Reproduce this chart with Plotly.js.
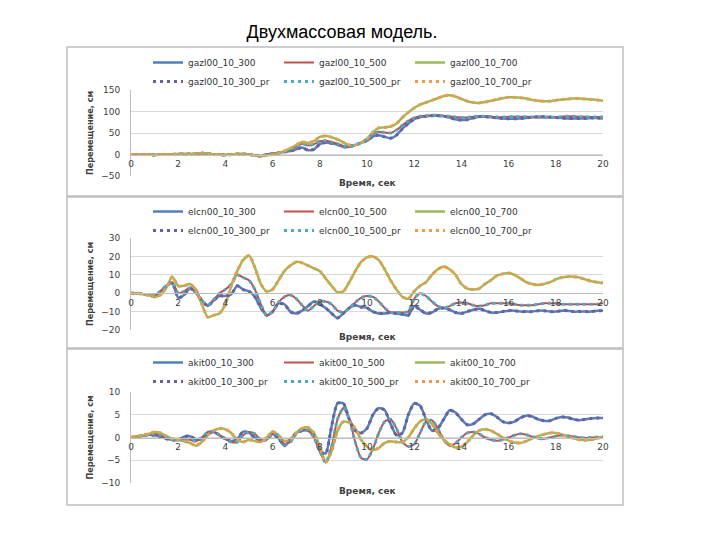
<!DOCTYPE html>
<html>
<head>
<meta charset="utf-8">
<script src="https://cdn.plot.ly/plotly-3.0.1.min.js"></script>
<style>
  html, body { margin: 0; padding: 0; background: #ffffff; }
  #chart { width: 720px; height: 540px; }
</style>
</head>
<body>
<div id="chart"></div>
<script>
// ---- time axis (seconds) ----
const time = [0,0.25,0.5,0.75,1,1.25,1.5,1.75,2,2.25,2.5,2.75,3,3.25,3.5,3.75,4,4.25,4.5,4.75,
  5,5.25,5.5,5.75,6,6.25,6.5,6.75,7,7.25,7.5,7.75,8,8.25,8.5,8.75,9,9.25,9.5,9.75,
  10,10.25,10.5,10.75,11,11.25,11.5,11.75,12,12.25,12.5,12.75,13,13.25,13.5,13.75,14,14.25,14.5,14.75,
  15,15.25,15.5,15.75,16,16.25,16.5,16.75,17,17.25,17.5,17.75,18,18.25,18.5,18.75,19,19.25,19.5,19.75,20];

// ---- panel 1: gazl ----
const gazl300 = [0,0,0,0,-1,0,0,0,1,1, 1,2,3,2,0,0,-1,0,1,1, 0,-2,-4,0,2,4,6,8,12,16,
  10,12,24,28,26,23,18,18,22,27, 32,42,45,41,38,45,60,72,82,87, 89,90,90,89,86,82,80,81,85,88,
  88,87,85,84,83,83,84,85,87,88, 88,87,86,85,84,84,84,84,85,85, 84];
const gazl500 = [0,0,0,0,-1,0,0,0,1,1, 1,2,3,2,0,0,-1,0,1,1, 0,-2,-4,0,2,4,7,12,18,25,
  21,24,31,32,29,25,20,19,22,28, 36,48,53,51,50,57,68,78,85,89, 90,91,91,90,89,87,86,86,88,89,
  89,88,87,87,88,88,88,88,87,86, 86,86,87,88,89,89,88,88,87,87, 87];
const gazl700 = [0,0,0,0,-1,0,0,0,1,1, 1,2,3,2,0,0,-1,0,2,1, 0,-2,-4,-2,0,3,8,14,22,29,
  27,31,41,43,40,35,28,22,22,27, 36,52,62,63,65,72,86,98,108,116, 121,126,131,136,138,135,129,124,121,120,
  122,125,128,131,133,133,132,130,127,125, 124,124,126,128,129,130,130,129,128,127, 125];

// ---- panel 2: elcn ----
const elcn300 = [0,0,-0.5,-1,-1.5,1,4,5.5,-2.5,-1, 2.5,1,-4,-7,-4,-1.5,-1.5,-0.5,4,2,
  1,-2,-8,-12,-10,-5.5,-6,-10,-11,-9.5, -7,-4.5,-6,-8,-11,-13.5,-11,-8,-6.5,-7.5,
  -8,-10,-11,-11,-10.5,-11,-11.5,-12,-7,-9, -11,-10.5,-8.5,-8,-9,-10.5,-11,-10,-9,-8.5,
  -9.5,-10.5,-10.5,-10,-9.5,-9.5,-10,-10,-10,-9.5, -9.5,-10,-10,-9.5,-9.5,-10,-10,-10,-10,-9.5, -9.5];
const elcn500 = [0,0,-0.5,-1,-1.5,1,4,6,0,1, 3,0,-4,-6.5,-3.5,0,2,5,10,8.5,
  7,2,-6,-12,-10,-5,-2,-1,-3,-6.5, -9.5,-7,-4.5,-4.5,-6,-9.5,-10.5,-8,-5,-2.5,
  -1.5,-2,-4.5,-8,-10.5,-10.5,-10.5,-10,-3,0, -1.5,-4.5,-7,-8,-7,-5.5,-5,-5.5,-6.5,-7,
  -6.5,-5.5,-5.5,-5.5,-5.5,-6,-6.5,-6.5,-6.5,-6, -5.5,-5.5,-5.5,-6,-6,-6,-6,-6,-6,-6, -5.5];
const elcn700 = [0,0,-0.5,-1,-2,-1,3,9,4,4, 5,2,-6,-13,-12,-11,-6,4,12,18,
  20.5,14,5,1,2,7,12,15,17,16.5, 15,13.5,12,8,4,0.5,1,6,12,17,
  19.5,20,18,13,7,2,-2,-3,1,4, 6,10,13,14.5,13,10,5,2.5,2,2.5,
  5,7,9.5,10.5,11,10,8,6,5,4.5, 5,6,7.5,8.5,9,9,8.5,7.5,6.5,6, 5.5];

// ---- panel 3: akit ----
const akit300 = [0,0.2,0.4,0.6,0.5,0.2,-0.3,-0.5,-0.6,0.2, 0.3,-0.4,-0.3,1,1.2,0.5,-0.3,-0.8,-0.3,1.3,
  1,0,-0.8,-0.3,0.8,-0.2,-1.8,-0.5,1,1.5, 1.5,0.5,-3,-3.5,2.5,7.5,7.5,4,1.5,1,
  2,5,6.5,6,3,0.5,1,5,7.5,7, 4,1.5,2,4,6,5.5,4,2.8,3,4,
  5,5.2,4.5,3.5,3.2,3.5,4.3,4.8,4.6,4, 3.7,3.7,4.2,4.5,4.4,4,3.8,4,4.2,4.3, 4.3];
const akit500 = [0,0.2,0.5,0.7,0.8,0.5,0,-0.3,-0.5,-0.3, -0.5,-0.8,0,1.2,1.3,0.5,-0.3,-1,-1,0.5,
  1.2,0.8,-0.5,-0.5,0.8,0.5,-1.5,-1,0.8,1.8, 1.5,0,-3,-5.5,-2,4,6.5,4,-1,-4.5,
  -4.8,-2.5,1,3.5,4,2,-1,-2,-1.5,1, 3.5,3.8,2,-0.5,-1.8,-1.3,0,1,1.2,0.8,
  0,-0.5,-0.7,-0.5,0,0.5,0.8,0.6,0.2,-0.2, -0.3,0,0.3,0.5,0.4,0.2,0,-0.1,0,0.1, 0.1];
const akit700 = [0,0.2,0.5,0.8,1.2,1,0.3,-0.3,-0.5,-0.8, -1.2,-1.8,-1,0.5,1.5,2,1.8,1,-0.5,-1,
  -0.5,-0.8,-1,0,1.3,0.5,-0.8,-0.5,1,2, 2.2,1,-2,-5.5,-3,1.5,3.5,3.3,2,-0.5,
  -2,-2.8,-2.3,-1.2,-0.8,-1,-1,0,2,3.5, 4,3,1,-0.5,-1.5,-2.2,-2,-1,0.5,1.5,
  1.8,1.5,0.8,0,-0.7,-1.1,-1.2,-0.8,-0.2,0.3, 0.7,1,1,0.7,0.2,-0.2,-0.5,-0.6,-0.5,-0.2, 0.2];

// ---- labels ----
const chartTitle = 'Двухмассовая модель.';
const xTitle = 'Время, сек';
const yTitle = 'Перемещение, см';
const panelPrefixes = ['gazl00_10_', 'elcn00_10_', 'akit00_10_'];
const variants = ['300', '500', '700'];
const panelData = [[gazl300, gazl500, gazl700], [elcn300, elcn500, elcn700], [akit300, akit500, akit700]];
const panelRanges = [[-50, 150], [-20, 30], [-10, 10]];
const panelDticks = [50, 10, 5];

// ---- styles / layout geometry ----
const W = 720, H = 540;
const mL = 131, mR = 117;
const plotW = W - mL - mR;
const solidColors = ['#4F81BD', '#C0504D', '#9BBB59'];
const dotColors = ['#6E5E9A', '#4BACC6', '#F79646'];
const panelPix = [[90, 176], [238, 330], [392, 483]];   // top/bottom px of plot areas
const boxPix = [[47, 196], [197, 348], [349, 505]];
const legendTop = [48, 197, 348];
const xTitlePix = [183, 337, 491];
const fy = p => 1 - p / H;
const fx = p => (p - mL) / plotW;

const traces = [];
panelData.forEach((series, i) => {
  const ax = i === 0 ? '' : String(i + 1);
  const leg = i === 0 ? 'legend' : 'legend' + (i + 1);
  series.forEach((vals, k) => {
    traces.push({
      x: time, y: vals, type: 'scatter', mode: 'lines',
      name: panelPrefixes[i] + variants[k],
      xaxis: 'x' + ax, yaxis: 'y' + ax, legend: leg,
      line: { color: solidColors[k], width: k === 1 ? 2 : 2.5, shape: 'spline', smoothing: 0.6 },
      hoverinfo: 'skip'
    });
  });
  series.forEach((vals, k) => {
    traces.push({
      x: time, y: vals, type: 'scatter', mode: 'lines',
      name: panelPrefixes[i] + variants[k] + '_pr',
      xaxis: 'x' + ax, yaxis: 'y' + ax, legend: leg,
      line: { color: dotColors[k], width: 3, dash: '3px,4px', shape: 'spline', smoothing: 0.6 },
      hoverinfo: 'skip'
    });
  });
});

const tickFont = { family: 'DejaVu Sans, sans-serif', size: 9, color: '#404040' };
const layout = {
  width: W, height: H,
  margin: { l: mL, r: mR, t: 0, b: 0 },
  paper_bgcolor: '#ffffff', plot_bgcolor: '#ffffff',
  font: { family: 'DejaVu Sans, sans-serif', size: 9, color: '#404040' },
  title: {
    text: chartTitle, xref: 'container', yref: 'container',
    x: 342 / W, y: fy(32), xanchor: 'center', yanchor: 'middle',
    font: { family: 'Liberation Sans, Arial, sans-serif', size: 18, color: '#000000' }
  },
  shapes: [], annotations: []
};

panelRanges.forEach((rng, i) => {
  const ax = i === 0 ? '' : String(i + 1);
  const d0 = fy(panelPix[i][1]), d1 = fy(panelPix[i][0]);
  const zeroPos = d0 + (0 - rng[0]) / (rng[1] - rng[0]) * (d1 - d0);
  layout['xaxis' + ax] = {
    domain: [0, 1], range: [0, 20], dtick: 2, tick0: 0,
    anchor: 'free', position: zeroPos,
    showgrid: false, zeroline: false, showline: true, linecolor: '#BFBFBF', linewidth: 1,
    ticks: '', tickfont: tickFont, ticklabelstandoff: 1, fixedrange: true
  };
  layout['yaxis' + ax] = {
    domain: [d0, d1], range: rng, dtick: panelDticks[i], tick0: 0,
    anchor: 'x' + ax,
    showgrid: true, gridcolor: '#D9D9D9', gridwidth: 1,
    zeroline: false, showline: true, linecolor: '#BFBFBF', linewidth: 1,
    ticks: '', tickfont: tickFont, ticklabelstandoff: 8, fixedrange: true,
    title: {
      text: '<b>' + yTitle + '</b>', standoff: 6,
      font: { family: 'Liberation Sans Narrow, DejaVu Sans Condensed, DejaVu Sans, sans-serif', size: 9, color: '#404040' }
    }
  };
  const legName = i === 0 ? 'legend' : 'legend' + (i + 1);
  layout[legName] = {
    orientation: 'h', x: fx(148), xanchor: 'left', y: fy(legendTop[i]), yanchor: 'top',
    entrywidth: 86, entrywidthmode: 'pixels', bgcolor: 'rgba(0,0,0,0)', borderwidth: 0,
    font: { family: 'DejaVu Sans, sans-serif', size: 9, color: '#333333' },
    itemclick: false, itemdoubleclick: false
  };
  layout.shapes.push({
    type: 'rect', xref: 'paper', yref: 'paper',
    x0: fx(67), x1: fx(623), y0: fy(boxPix[i][1]), y1: fy(boxPix[i][0]),
    line: { color: '#BFBFBF', width: 1.5 }, fillcolor: 'rgba(0,0,0,0)', layer: 'below'
  });
  layout.annotations.push({
    text: '<b>' + xTitle + '</b>', xref: 'paper', yref: 'paper',
    x: 0.5, y: fy(xTitlePix[i]), xanchor: 'center', yanchor: 'middle', showarrow: false,
    font: { family: 'DejaVu Sans, sans-serif', size: 9, color: '#404040' }
  });
});

Plotly.newPlot('chart', traces, layout, { displayModeBar: false, staticPlot: true });
</script>
</body>
</html>
